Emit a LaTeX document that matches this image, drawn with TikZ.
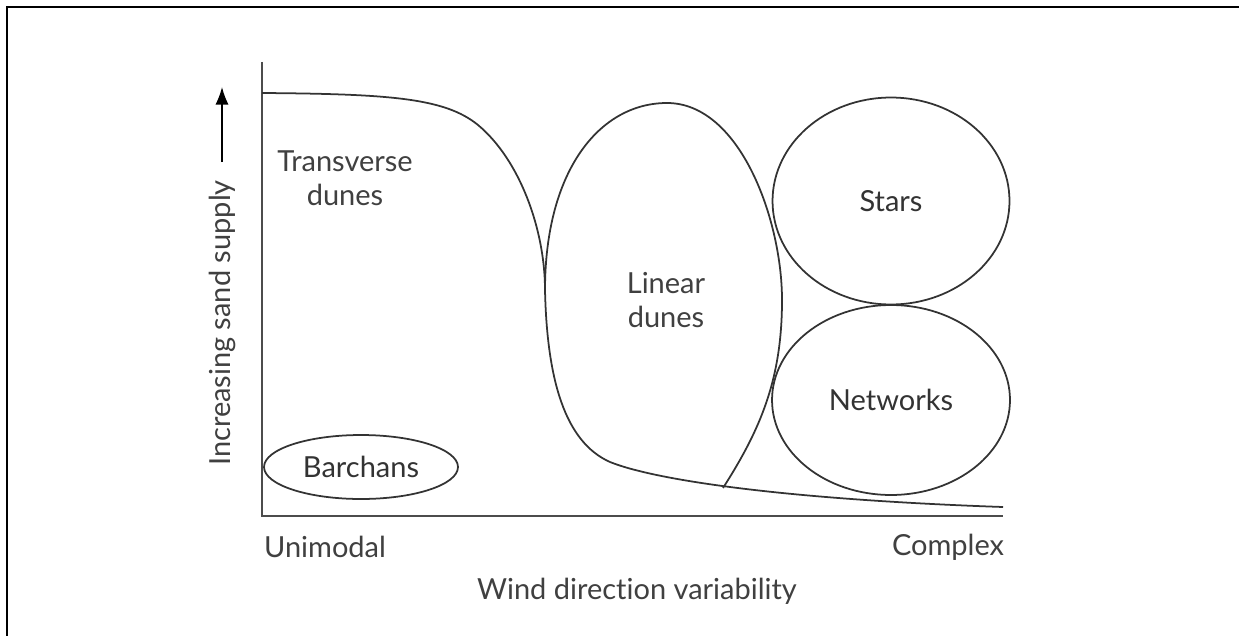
\documentclass[tikz,border=0pt]{standalone}
\usepackage{fontspec}
\setmainfont{Lato}[Ligatures=NoCommon]
\usetikzlibrary{shapes.geometric,arrows.meta}
\begin{document}
\begin{tikzpicture}[x=0.02cm,y=-0.02cm,
    curve/.style={draw=black!80,line width=1pt},
    blob/.style={ellipse,draw=black!80,line width=1pt,inner sep=0pt,text=black!80,
      font=\fontsize{16.5}{20}\selectfont},
    lbl/.style={text=black!75,font=\fontsize{16.5}{19.5}\selectfont,align=center}]
        \useasboundingbox (0,0) rectangle (1239,635);
        \draw[line width=1.7pt] (7,640) -- (7,7) -- (1245,7);
        % axes
        \coordinate (T) at (262,62);
        \coordinate (O) at (262,516);
        \coordinate (X) at (1003,516);
        \draw[draw=black!70,line width=1.1pt] (T)--(O)--(X);
        \node[lbl,rotate=90] (supply) at (222,323) {Increasing sand supply};
        \draw[line width=0.9pt,-{Latex[length=10pt,width=7.5pt]}] (supply.east) ++(0,-12) -- (222,87);
        \node[lbl] (uni) at (325,547) {Unimodal};
        \node[lbl] (cplx) at (948,547) {Complex};
        \node[lbl] (wind) at (637,591) {Wind direction variability};
        % boundary curve
        \coordinate (K) at (545,290);
        \coordinate (F) at (723,488);
        \draw[curve] (262,93) .. controls (390,94) and (445,98) .. (478,125)
          .. controls (520,160) and (545,230) .. (K)
          .. controls (547,380) and (565,442) .. (610,462)
          .. controls (660,482) and (800,500) .. (1003,507);
        \draw[curve] (K) .. controls (545,170) and (600,103) .. (667,103)
          .. controls (740,103) and (782,220) .. (782,300)
          .. controls (782,380) and (760,430) .. (F);
        \node[lbl] (trans) at (345,178) {Transverse\\dunes};
        \node[lbl] (lin) at (666,300) {Linear\\dunes};
        % fields
        \node[blob,minimum width=4.74cm,minimum height=4.14cm] (stars) at (891,201) {Stars};
        \node[blob,minimum width=4.76cm,minimum height=3.8cm] (net) at (891,400) {Networks};
        \node[blob,minimum width=3.88cm,minimum height=1.28cm] (barch) at (361,467) {Barchans};
      \end{tikzpicture}
\end{document}
